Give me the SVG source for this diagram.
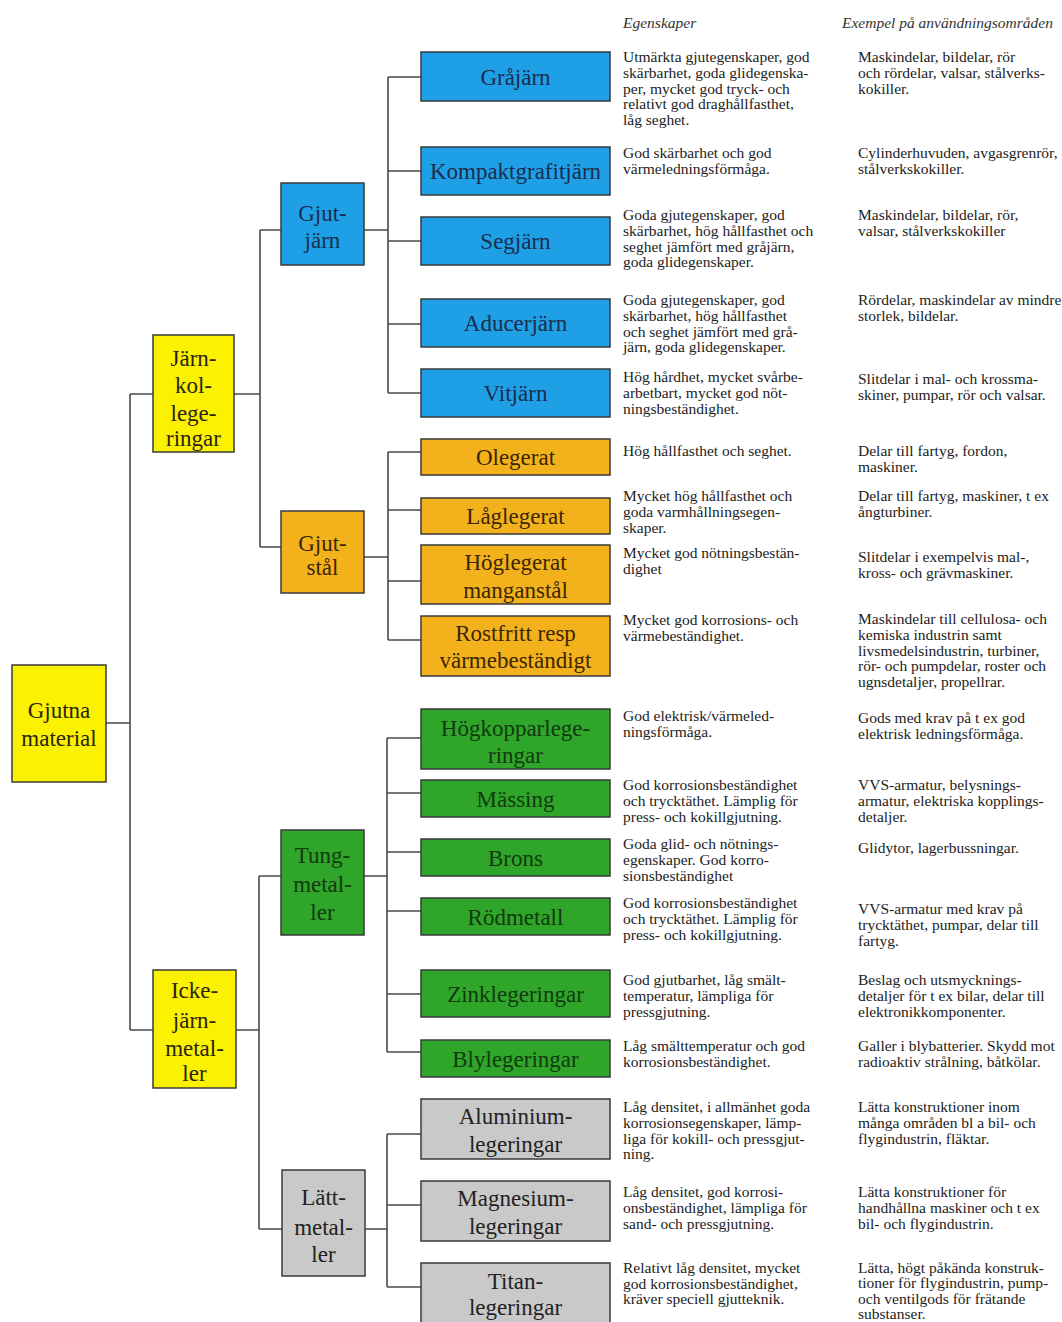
<svg xmlns="http://www.w3.org/2000/svg" width="1062" height="1322" viewBox="0 0 1062 1322">
<style>
.bx{stroke:#3a3a3a;stroke-width:1.5}
.y{fill:#FAF200}.b{fill:#1FA0E6}.o{fill:#F3B11C}.g{fill:#2FA52A}.s{fill:#C9C9C9}
.nl{font-family:"Liberation Serif","Times New Roman",serif;font-size:23px;text-anchor:middle}
.ty{fill:#2b2410}.tb{fill:#1a2d4d}.to{fill:#3a2600}.tg{fill:#123a0f}.ts{fill:#222}
.c{stroke:#4a4a4a;stroke-width:1.6;fill:none}
.tx{font-family:"Liberation Serif","Times New Roman",serif;font-size:15.5px;fill:#222}
.hd{font-family:"Liberation Serif","Times New Roman",serif;font-size:15.5px;font-style:italic;fill:#333}
</style>
<rect width="1062" height="1322" fill="#fff"/>

<g id="connectors">
<path class="c" d="M106 723H130M130 394V1030M130 394H153M130 1030H153"/>
<path class="c" d="M234 394H260M260 230V547M260 230H281M260 547H281"/>
<path class="c" d="M236 1030H259M259 876V1229M259 876H281M259 1229H282"/>
<path class="c" d="M364 230H388M388 77V393M388 77H421M388 171H421M388 241H421M388 324H421M388 393H421"/>
<path class="c" d="M364 557H388M388 452V640M388 452H421M388 510H421M388 581H421M388 640H421"/>
<path class="c" d="M364 876H387M387 738V1052M387 738H421M387 793H421M387 852H421M387 911H421M387 994H421M387 1052H421"/>
<path class="c" d="M365 1229H387M387 1134V1287M387 1134H421M387 1205H421M387 1287H421"/>
</g>

<g id="n-gjutna"><rect class="bx y" x="12" y="665" width="94" height="117"/><text class="nl ty"><tspan x="59" y="718">Gjutna</tspan><tspan x="59" y="746">material</tspan></text></g>

<g id="n-jarnkol"><rect class="bx y" x="153" y="335" width="81" height="117"/><text class="nl ty"><tspan x="193.5" y="366">Järn-</tspan><tspan x="193.5" y="393">kol-</tspan><tspan x="193.5" y="421">lege-</tspan><tspan x="193.5" y="446">ringar</tspan></text></g>
<g id="n-icke"><rect class="bx y" x="153" y="970" width="83" height="118"/><text class="nl ty"><tspan x="194.5" y="998">Icke-</tspan><tspan x="194.5" y="1028">järn-</tspan><tspan x="194.5" y="1056">metal-</tspan><tspan x="194.5" y="1081">ler</tspan></text></g>

<g id="n-gjutjarn"><rect class="bx b" x="281" y="183" width="83" height="82"/><text class="nl tb"><tspan x="322.5" y="221">Gjut-</tspan><tspan x="322.5" y="248">järn</tspan></text></g>
<g id="n-gjutstal"><rect class="bx o" x="281" y="511" width="83" height="82"/><text class="nl to"><tspan x="322.5" y="551">Gjut-</tspan><tspan x="322.5" y="575">stål</tspan></text></g>
<g id="n-tung"><rect class="bx g" x="281" y="830" width="83" height="105"/><text class="nl tg"><tspan x="322.5" y="863">Tung-</tspan><tspan x="322.5" y="892">metal-</tspan><tspan x="322.5" y="920">ler</tspan></text></g>
<g id="n-latt"><rect class="bx s" x="282" y="1170" width="83" height="106"/><text class="nl ts"><tspan x="323.5" y="1205">Lätt-</tspan><tspan x="323.5" y="1235">metal-</tspan><tspan x="323.5" y="1262">ler</tspan></text></g>

<g id="n-grajarn"><rect class="bx b" x="421" y="52" width="189" height="49"/><text class="nl tb" x="515.5" y="85">Gråjärn</text></g>
<g id="n-kompakt"><rect class="bx b" x="421" y="147" width="189" height="48"/><text class="nl tb" x="515.5" y="179">Kompaktgrafitjärn</text></g>
<g id="n-segjarn"><rect class="bx b" x="421" y="217" width="189" height="48"/><text class="nl tb" x="515.5" y="249">Segjärn</text></g>
<g id="n-aducer"><rect class="bx b" x="421" y="299" width="189" height="48"/><text class="nl tb" x="515.5" y="331">Aducerjärn</text></g>
<g id="n-vitjarn"><rect class="bx b" x="421" y="369" width="189" height="48"/><text class="nl tb" x="515.5" y="401">Vitjärn</text></g>

<g id="n-olegerat"><rect class="bx o" x="421" y="439" width="189" height="36"/><text class="nl to" x="515.5" y="465">Olegerat</text></g>
<g id="n-laglegerat"><rect class="bx o" x="421" y="498" width="189" height="36"/><text class="nl to" x="515.5" y="524">Låglegerat</text></g>
<g id="n-hoglegerat"><rect class="bx o" x="421" y="545" width="189" height="59"/><text class="nl to"><tspan x="515.5" y="570">Höglegerat</tspan><tspan x="515.5" y="598">manganstål</tspan></text></g>
<g id="n-rostfritt"><rect class="bx o" x="421" y="616" width="189" height="60"/><text class="nl to"><tspan x="515.5" y="641">Rostfritt resp</tspan><tspan x="515.5" y="668">värmebeständigt</tspan></text></g>

<g id="n-hogkoppar"><rect class="bx g" x="421" y="709" width="189" height="60"/><text class="nl tg"><tspan x="515.5" y="736">Högkopparlege-</tspan><tspan x="515.5" y="763">ringar</tspan></text></g>
<g id="n-massing"><rect class="bx g" x="421" y="780" width="189" height="37"/><text class="nl tg" x="515.5" y="807">Mässing</text></g>
<g id="n-brons"><rect class="bx g" x="421" y="839" width="189" height="37"/><text class="nl tg" x="515.5" y="866">Brons</text></g>
<g id="n-rodmetall"><rect class="bx g" x="421" y="898" width="189" height="37"/><text class="nl tg" x="515.5" y="925">Rödmetall</text></g>
<g id="n-zink"><rect class="bx g" x="421" y="970" width="189" height="47"/><text class="nl tg" x="515.5" y="1002">Zinklegeringar</text></g>
<g id="n-bly"><rect class="bx g" x="421" y="1040" width="189" height="37"/><text class="nl tg" x="515.5" y="1067">Blylegeringar</text></g>

<g id="n-aluminium"><rect class="bx s" x="421" y="1099" width="189" height="60"/><text class="nl ts"><tspan x="515.5" y="1124">Aluminium-</tspan><tspan x="515.5" y="1152">legeringar</tspan></text></g>
<g id="n-magnesium"><rect class="bx s" x="421" y="1181" width="189" height="60"/><text class="nl ts"><tspan x="515.5" y="1206">Magnesium-</tspan><tspan x="515.5" y="1234">legeringar</tspan></text></g>
<g id="n-titan"><rect class="bx s" x="421" y="1263" width="189" height="70"/><text class="nl ts"><tspan x="515.5" y="1289">Titan-</tspan><tspan x="515.5" y="1315">legeringar</tspan></text></g>

<g id="headers">
<text class="hd" x="623" y="28">Egenskaper</text>
<text class="hd" x="842" y="28">Exempel på användningsområden</text>
</g>

<g id="egenskaper" class="tx">
<text><tspan x="623" y="62">Utmärkta gjutegenskaper, god</tspan><tspan x="623" dy="15.8">skärbarhet, goda glidegenska-</tspan><tspan x="623" dy="15.8">per, mycket god tryck- och</tspan><tspan x="623" dy="15.8">relativt god draghållfasthet,</tspan><tspan x="623" dy="15.8">låg seghet.</tspan></text>
<text><tspan x="623" y="158">God skärbarhet och god</tspan><tspan x="623" dy="15.8">värmeledningsförmåga.</tspan></text>
<text><tspan x="623" y="220">Goda gjutegenskaper, god</tspan><tspan x="623" dy="15.8">skärbarhet, hög hållfasthet och</tspan><tspan x="623" dy="15.8">seghet jämfört med gråjärn,</tspan><tspan x="623" dy="15.8">goda glidegenskaper.</tspan></text>
<text><tspan x="623" y="305">Goda gjutegenskaper, god</tspan><tspan x="623" dy="15.8">skärbarhet, hög hållfasthet</tspan><tspan x="623" dy="15.8">och seghet jämfört med grå-</tspan><tspan x="623" dy="15.8">järn, goda glidegenskaper.</tspan></text>
<text><tspan x="623" y="382">Hög hårdhet, mycket svårbe-</tspan><tspan x="623" dy="15.8">arbetbart, mycket god nöt-</tspan><tspan x="623" dy="15.8">ningsbeständighet.</tspan></text>
<text><tspan x="623" y="456">Hög hållfasthet och seghet.</tspan></text>
<text><tspan x="623" y="501">Mycket hög hållfasthet och</tspan><tspan x="623" dy="15.8">goda varmhållningsegen-</tspan><tspan x="623" dy="15.8">skaper.</tspan></text>
<text><tspan x="623" y="558">Mycket god nötningsbestän-</tspan><tspan x="623" dy="15.8">dighet</tspan></text>
<text><tspan x="623" y="625">Mycket god korrosions- och</tspan><tspan x="623" dy="15.8">värmebeständighet.</tspan></text>
<text><tspan x="623" y="721">God elektrisk/värmeled-</tspan><tspan x="623" dy="15.8">ningsförmåga.</tspan></text>
<text><tspan x="623" y="790">God korrosionsbeständighet</tspan><tspan x="623" dy="15.8">och trycktäthet. Lämplig för</tspan><tspan x="623" dy="15.8">press- och kokillgjutning.</tspan></text>
<text><tspan x="623" y="849">Goda glid- och nötnings-</tspan><tspan x="623" dy="15.8">egenskaper. God korro-</tspan><tspan x="623" dy="15.8">sionsbeständighet</tspan></text>
<text><tspan x="623" y="908">God korrosionsbeständighet</tspan><tspan x="623" dy="15.8">och trycktäthet. Lämplig för</tspan><tspan x="623" dy="15.8">press- och kokillgjutning.</tspan></text>
<text><tspan x="623" y="985">God gjutbarhet, låg smält-</tspan><tspan x="623" dy="15.8">temperatur, lämpliga för</tspan><tspan x="623" dy="15.8">pressgjutning.</tspan></text>
<text><tspan x="623" y="1051">Låg smälttemperatur och god</tspan><tspan x="623" dy="15.8">korrosionsbeständighet.</tspan></text>
<text><tspan x="623" y="1112">Låg densitet, i allmänhet goda</tspan><tspan x="623" dy="15.8">korrosionsegenskaper, lämp-</tspan><tspan x="623" dy="15.8">liga för kokill- och pressgjut-</tspan><tspan x="623" dy="15.8">ning.</tspan></text>
<text><tspan x="623" y="1197">Låg densitet, god korrosi-</tspan><tspan x="623" dy="15.8">onsbeständighet, lämpliga för</tspan><tspan x="623" dy="15.8">sand- och pressgjutning.</tspan></text>
<text><tspan x="623" y="1273">Relativt låg densitet, mycket</tspan><tspan x="623" dy="15.5">god korrosionsbeständighet,</tspan><tspan x="623" dy="15.5">kräver speciell gjutteknik.</tspan></text>
</g>

<g id="anvandning" class="tx">
<text><tspan x="858" y="62">Maskindelar, bildelar, rör</tspan><tspan x="858" dy="15.8">och rördelar, valsar, stålverks-</tspan><tspan x="858" dy="15.8">kokiller.</tspan></text>
<text><tspan x="858" y="158">Cylinderhuvuden, avgasgrenrör,</tspan><tspan x="858" dy="15.8">stålverkskokiller.</tspan></text>
<text><tspan x="858" y="220">Maskindelar, bildelar, rör,</tspan><tspan x="858" dy="15.8">valsar, stålverkskokiller</tspan></text>
<text><tspan x="858" y="305">Rördelar, maskindelar av mindre</tspan><tspan x="858" dy="15.8">storlek, bildelar.</tspan></text>
<text><tspan x="858" y="384">Slitdelar i mal- och krossma-</tspan><tspan x="858" dy="15.8">skiner, pumpar, rör och valsar.</tspan></text>
<text><tspan x="858" y="456">Delar till fartyg, fordon,</tspan><tspan x="858" dy="15.8">maskiner.</tspan></text>
<text><tspan x="858" y="501">Delar till fartyg, maskiner, t ex</tspan><tspan x="858" dy="15.8">ångturbiner.</tspan></text>
<text><tspan x="858" y="562">Slitdelar i exempelvis mal-,</tspan><tspan x="858" dy="15.8">kross- och grävmaskiner.</tspan></text>
<text><tspan x="858" y="624">Maskindelar till cellulosa- och</tspan><tspan x="858" dy="15.8">kemiska industrin samt</tspan><tspan x="858" dy="15.8">livsmedelsindustrin, turbiner,</tspan><tspan x="858" dy="15.8">rör- och pumpdelar, roster och</tspan><tspan x="858" dy="15.8">ugnsdetaljer, propellrar.</tspan></text>
<text><tspan x="858" y="723">Gods med krav på t ex god</tspan><tspan x="858" dy="15.8">elektrisk ledningsförmåga.</tspan></text>
<text><tspan x="858" y="790">VVS-armatur, belysnings-</tspan><tspan x="858" dy="15.8">armatur, elektriska kopplings-</tspan><tspan x="858" dy="15.8">detaljer.</tspan></text>
<text><tspan x="858" y="853">Glidytor, lagerbussningar.</tspan></text>
<text><tspan x="858" y="914">VVS-armatur med krav på</tspan><tspan x="858" dy="15.8">trycktäthet, pumpar, delar till</tspan><tspan x="858" dy="15.8">fartyg.</tspan></text>
<text><tspan x="858" y="985">Beslag och utsmycknings-</tspan><tspan x="858" dy="15.8">detaljer för t ex bilar, delar till</tspan><tspan x="858" dy="15.8">elektronikkomponenter.</tspan></text>
<text><tspan x="858" y="1051">Galler i blybatterier. Skydd mot</tspan><tspan x="858" dy="15.8">radioaktiv strålning, båtkölar.</tspan></text>
<text><tspan x="858" y="1112">Lätta konstruktioner inom</tspan><tspan x="858" dy="15.8">många områden bl a bil- och</tspan><tspan x="858" dy="15.8">flygindustrin, fläktar.</tspan></text>
<text><tspan x="858" y="1197">Lätta konstruktioner för</tspan><tspan x="858" dy="15.8">handhållna maskiner och t ex</tspan><tspan x="858" dy="15.8">bil- och flygindustrin.</tspan></text>
<text><tspan x="858" y="1273">Lätta, högt påkända konstruk-</tspan><tspan x="858" dy="15.3">tioner för flygindustrin, pump-</tspan><tspan x="858" dy="15.3">och ventilgods för frätande</tspan><tspan x="858" dy="15.3">substanser.</tspan></text>
</g>
</svg>
